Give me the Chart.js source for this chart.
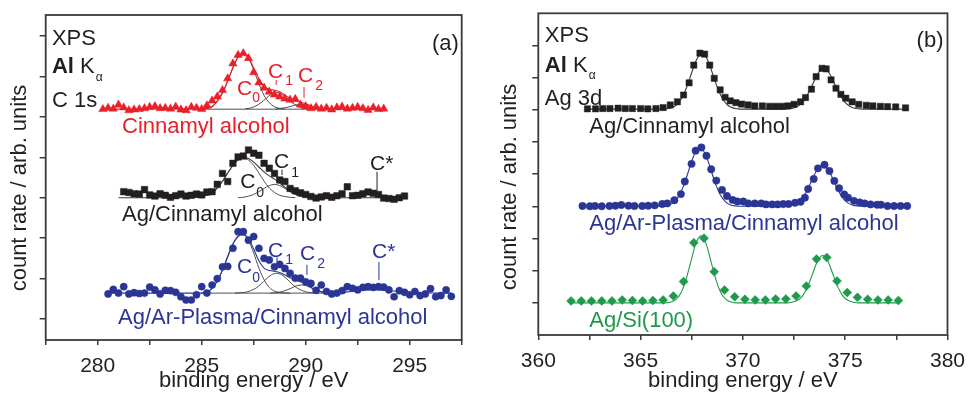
<!DOCTYPE html>
<html>
<head>
<meta charset="utf-8">
<script src="https://cdn.jsdelivr.net/npm/chart.js@4"></script>
<style>
  body { margin: 0; background: #fff; }
  #wrap { position: relative; width: 974px; height: 394px; background: #fff; }
  canvas { position: absolute; top: 0; }
</style>
</head>
<body>
<div id="wrap">
  <canvas id="chartA" width="490" height="394" style="left:0"></canvas>
  <canvas id="chartB" width="484" height="394" style="left:490px"></canvas>
</div>
<script>
// ---------- panel (a): C 1s ----------
const xTicksA = [277.5, 280, 282.5, 285, 287.5, 290, 292.5, 295, 297.5];
const yTicksA = [0, 1, 2, 3, 4, 5, 6, 7];

// Cinnamyl alcohol (red triangles)
const cinX = [280.25, 280.5, 280.75, 281, 281.25, 281.5, 281.75, 282, 282.25, 282.5, 282.75, 283, 283.25, 283.5, 283.75,
  284, 284.25, 284.5, 284.75, 285, 285.25, 285.5, 285.75, 286, 286.25, 286.5, 286.75, 287, 287.25, 287.5, 287.75,
  288, 288.25, 288.5, 288.75, 289, 289.25, 289.5, 289.75, 290, 290.25, 290.5, 290.75, 291, 291.25, 291.5, 291.75,
  292, 292.25, 292.5, 292.75, 293, 293.25, 293.5, 293.75];
const cinY = [5.19, 5.22, 5.20, 5.30, 5.23, 5.16, 5.18, 5.19, 5.21, 5.24, 5.26, 5.21, 5.22, 5.20, 5.25,
  5.18, 5.16, 5.24, 5.22, 5.19, 5.28, 5.40, 5.50, 5.66, 5.95, 6.32, 6.53, 6.57, 6.45, 6.10, 5.85,
  5.72, 5.62, 5.55, 5.50, 5.45, 5.42, 5.44, 5.30, 5.26, 5.21, 5.24, 5.20, 5.22, 5.18, 5.23, 5.25,
  5.20, 5.22, 5.24, 5.21, 5.17, 5.23, 5.19, 5.20];
const cinFitX = [280.25, 285, 285.25, 285.5, 285.75, 286, 286.25, 286.5, 286.75, 287, 287.25, 287.5, 287.75, 288, 288.25,
  288.5, 288.75, 289, 289.25, 289.5, 289.75, 290, 290.25, 290.5, 290.75, 291, 291.25, 293.75];
const cinFitY = [5.19, 5.20, 5.21, 5.25, 5.40, 5.60, 5.90, 6.22, 6.48, 6.57, 6.47, 6.21, 5.94, 5.76, 5.68,
  5.66, 5.62, 5.54, 5.46, 5.40, 5.36, 5.32, 5.27, 5.24, 5.21, 5.20, 5.19, 5.19];
const cinC0X = [285, 285.25, 285.5, 285.75, 286, 286.25, 286.5, 286.75, 287, 287.25, 287.5, 287.75, 288, 288.25, 288.5, 288.75, 289];
const cinC0Y = [5.19, 5.21, 5.26, 5.38, 5.58, 5.88, 6.21, 6.47, 6.56, 6.45, 6.16, 5.82, 5.53, 5.35, 5.25, 5.21, 5.19];
const cinC1X = [287.1, 287.35, 287.6, 287.85, 288.1, 288.35, 288.6, 288.85, 289.1, 289.35, 289.6, 289.85, 290.1];
const cinC1Y = [5.20, 5.22, 5.27, 5.35, 5.46, 5.56, 5.60, 5.56, 5.46, 5.35, 5.27, 5.22, 5.20];
const cinC2X = [288.55, 288.8, 289.05, 289.3, 289.55, 289.8, 290.05, 290.3, 290.55, 290.8, 291.05];
const cinC2Y = [5.19, 5.21, 5.23, 5.26, 5.30, 5.31, 5.30, 5.26, 5.23, 5.21, 5.19];
const cinBaseX = [285.0, 291.2];
const cinBaseY = [5.19, 5.19];

// Ag/Cinnamyl alcohol (black squares)
const agcX = [281.25, 281.5, 281.75, 282, 282.25, 282.5, 282.75, 283, 283.25, 283.5, 283.75, 284, 284.25, 284.5, 284.75,
  285, 285.25, 285.5, 285.75, 286, 286.25, 286.5, 286.75, 287, 287.25, 287.5, 287.75, 288, 288.25, 288.5, 288.75,
  289, 289.25, 289.5, 289.75, 290, 290.25, 290.5, 290.75, 291, 291.25, 291.5, 291.75, 292, 292.25, 292.5, 292.75,
  293, 293.25, 293.5, 293.75, 294, 294.25, 294.5, 294.75];
const agcY = [3.15, 3.13, 3.10, 3.09, 3.20, 3.07, 3.04, 3.10, 3.06, 3.01, 3.05, 3.09, 3.04, 3.06, 3.09,
  3.07, 3.14, 3.15, 3.33, 3.60, 3.40, 3.85, 4.01, 4.03, 4.18, 4.10, 4.05, 3.85, 3.73, 3.60, 3.44,
  3.40, 3.23, 3.17, 3.12, 3.08, 3.03, 2.99, 3.02, 3.05, 3.01, 3.05, 3.10, 3.27, 3.05, 3.06, 3.10,
  3.14, 3.11, 3.08, 2.99, 2.98, 2.96, 3.00, 3.04];
const agcFitX = [281.0, 284.5, 284.75, 285, 285.25, 285.5, 285.75, 286, 286.25, 286.5, 286.75, 287, 287.25, 287.5, 287.75,
  288, 288.25, 288.5, 288.75, 289, 289.25, 289.5, 289.75, 290, 290.25, 294.9];
const agcFitY = [3.00, 3.00, 3.01, 3.03, 3.06, 3.13, 3.24, 3.41, 3.61, 3.80, 3.94, 4.01, 3.97, 3.88, 3.76,
  3.64, 3.54, 3.46, 3.36, 3.26, 3.16, 3.09, 3.04, 3.02, 3.00, 3.00];
const agcC0X = [284.5, 284.75, 285, 285.25, 285.5, 285.75, 286, 286.25, 286.5, 286.75, 287, 287.25, 287.5, 287.75, 288,
  288.25, 288.5, 288.75, 289, 289.25, 289.5];
const agcC0Y = [3.00, 3.01, 3.03, 3.06, 3.13, 3.24, 3.41, 3.61, 3.80, 3.93, 3.99, 3.93, 3.80, 3.61, 3.41,
  3.24, 3.13, 3.06, 3.03, 3.01, 3.00];
const agcC1X = [286.75, 287, 287.25, 287.5, 287.75, 288, 288.25, 288.5, 288.75, 289, 289.25, 289.5, 289.75, 290, 290.25];
const agcC1Y = [3.00, 3.01, 3.04, 3.08, 3.15, 3.23, 3.30, 3.33, 3.30, 3.23, 3.15, 3.08, 3.04, 3.02, 3.00];

// Ag/Ar-Plasma/Cinnamyl alcohol (blue circles)
const plX = [280.5, 280.75, 281, 281.25, 281.5, 281.75, 282, 282.25, 282.5, 282.75, 283, 283.25, 283.5, 283.75,
  284, 284.25, 284.5, 284.75, 285, 285.25, 285.5, 285.75, 286, 286.25, 286.5, 286.75, 287, 287.25, 287.5, 287.75,
  288, 288.25, 288.5, 288.75, 289, 289.25, 289.5, 289.75, 290, 290.25, 290.5, 290.75, 291, 291.25, 291.5, 291.75,
  292, 292.25, 292.5, 292.75, 293, 293.25, 293.5, 293.75, 294, 294.25, 294.5, 294.75, 295, 295.25, 295.5, 295.75,
  296, 296.25, 296.5, 296.75, 297];
const plY = [0.62, 0.73, 0.64, 0.80, 0.62, 0.65, 0.63, 0.64, 0.79, 0.72, 0.62, 0.71, 0.70, 0.66,
  0.55, 0.47, 0.47, 0.60, 0.80, 0.64, 0.84, 1.00, 1.29, 1.30, 1.75, 2.16, 2.16, 1.95, 2.04, 1.75,
  1.50, 1.46, 1.29, 1.35, 1.25, 1.13, 1.01, 1.01, 0.92, 0.88, 0.71, 0.84, 0.68, 0.62, 0.64, 0.70,
  0.80, 0.76, 0.72, 0.78, 0.80, 0.78, 0.80, 0.79, 0.72, 0.55, 0.70, 0.66, 0.60, 0.68, 0.58, 0.62,
  0.75, 0.55, 0.58, 0.72, 0.56];
const plFitX = [280.5, 285, 285.25, 285.5, 285.75, 286, 286.25, 286.5, 286.75, 287, 287.25, 287.5, 287.75, 288, 288.25,
  288.5, 288.75, 289, 289.25, 289.5, 289.75, 290, 290.25, 290.5, 290.75, 291, 291.5, 292, 292.5, 293, 293.5,
  294, 294.5, 295, 295.5, 297];
const plFitY = [0.64, 0.64, 0.67, 0.76, 0.95, 1.22, 1.55, 1.86, 2.05, 2.09, 1.99, 1.73, 1.44, 1.26, 1.20,
  1.18, 1.15, 1.09, 1.02, 0.97, 0.92, 0.86, 0.78, 0.72, 0.67, 0.65, 0.66, 0.67, 0.70, 0.72, 0.72,
  0.70, 0.68, 0.66, 0.65, 0.64];
const plC0X = [285, 285.25, 285.5, 285.75, 286, 286.25, 286.5, 286.75, 287, 287.25, 287.5, 287.75, 288, 288.25, 288.5, 288.75, 289, 289.25];
const plC0Y = [0.64, 0.67, 0.75, 0.93, 1.20, 1.53, 1.84, 2.03, 2.08, 1.95, 1.63, 1.26, 0.97, 0.78, 0.69, 0.655, 0.643, 0.64];
const plC1X = [286.6, 286.85, 287.1, 287.35, 287.6, 287.85, 288.1, 288.35, 288.6, 288.85, 289.1, 289.35, 289.6, 289.85, 290.1, 290.35, 290.6];
const plC1Y = [0.64, 0.65, 0.66, 0.70, 0.76, 0.86, 0.99, 1.09, 1.13, 1.09, 0.99, 0.86, 0.76, 0.70, 0.66, 0.65, 0.64];
const plC2X = [288.3, 288.55, 288.8, 289.05, 289.3, 289.55, 289.8, 290.05, 290.3, 290.55, 290.8, 291.05, 291.3];
const plC2Y = [0.64, 0.65, 0.67, 0.71, 0.76, 0.82, 0.84, 0.82, 0.76, 0.71, 0.67, 0.65, 0.64];
const plBaseX = [285.0, 291.4];
const plBaseY = [0.64, 0.64];

// ---------- panel (b): Ag 3d ----------
const xTicksB = [360, 362.5, 365, 367.5, 370, 372.5, 375, 377.5, 380];
const yTicksB = [1, 2, 3, 4, 5, 6, 7, 8, 9];

const agX = [362.4, 362.8, 363.15, 363.5, 363.9, 364.25, 364.6, 365.0, 365.35, 365.75, 366.1, 366.45, 366.8, 367.1,
  367.37, 367.6, 367.9, 368.13, 368.38, 368.6, 368.89, 369.13, 369.38, 369.66, 369.94, 370.26, 370.58, 370.95,
  371.3, 371.6, 371.9, 372.2, 372.5, 372.82, 373.06, 373.35, 373.58, 373.87, 374.07, 374.31, 374.55, 374.79,
  375.03, 375.34, 375.66, 376.03, 376.35, 376.72, 377.07, 377.47, 377.95];
const agY = [7.03, 7.03, 7.04, 7.04, 7.05, 7.04, 7.04, 7.04, 7.03, 7.04, 7.07, 7.15, 7.25, 7.46,
  7.84, 8.39, 8.76, 8.73, 8.39, 7.98, 7.62, 7.39, 7.28, 7.22, 7.18, 7.15, 7.12, 7.12,
  7.11, 7.11, 7.11, 7.12, 7.17, 7.25, 7.38, 7.64, 8.03, 8.29, 8.27, 7.93, 7.67, 7.48,
  7.36, 7.25, 7.17, 7.14, 7.12, 7.11, 7.10, 7.09, 7.06];
const agFitX = [362.3, 366, 366.25, 366.5, 366.75, 367, 367.25, 367.5, 367.75, 368, 368.25, 368.5, 368.75, 369, 369.25,
  369.5, 369.75, 370, 371.95, 372.2, 372.45, 372.7, 372.95, 373.2, 373.45, 373.7, 373.95, 374.2, 374.45, 374.7,
  374.95, 375.2, 375.45, 375.7, 375.95, 378.1];
const agFitY = [7.02, 7.02, 7.03, 7.06, 7.15, 7.35, 7.70, 8.16, 8.58, 8.75, 8.58, 8.16, 7.70, 7.35, 7.15,
  7.06, 7.03, 7.02, 7.02, 7.03, 7.05, 7.12, 7.26, 7.52, 7.85, 8.16, 8.28, 8.16, 7.85, 7.52,
  7.26, 7.12, 7.05, 7.03, 7.02, 7.02];

const agpX = [362.16, 362.52, 362.77, 363.1, 363.48, 363.77, 364.06, 364.41, 364.7, 365.08, 365.37, 365.69, 366.06,
  366.3, 366.65, 366.97, 367.16, 367.49, 367.69, 367.97, 368.22, 368.45, 368.7, 368.98, 369.22, 369.5, 369.73,
  370.02, 370.26, 370.58, 370.9, 371.13, 371.43, 371.7, 371.97, 372.23, 372.55, 372.82, 373.03, 373.19, 373.46,
  373.67, 373.99, 374.23, 374.47, 374.7, 374.95, 375.14, 375.43, 375.71, 375.95, 376.24, 376.56, 376.75,
  377.07, 377.39, 377.71, 378.03];
const agpY = [4.01, 4.00, 4.01, 4.00, 4.01, 4.02, 4.04, 4.02, 4.01, 4.01, 4.02, 4.03, 4.07,
  4.09, 4.19, 4.38, 4.77, 5.32, 5.73, 5.83, 5.57, 5.15, 4.80, 4.51, 4.32, 4.20, 4.15,
  4.15, 4.09, 4.09, 4.09, 4.06, 4.06, 4.06, 4.07, 4.07, 4.11, 4.14, 4.27, 4.54, 4.85,
  5.18, 5.29, 5.10, 4.79, 4.56, 4.37, 4.27, 4.17, 4.12, 4.09, 4.06, 4.05, 4.05,
  4.01, 4.01, 4.01, 4.01];
const agpFitX = [362.16, 365.9, 366.15, 366.4, 366.65, 366.9, 367.15, 367.4, 367.65, 367.9, 368.15, 368.4, 368.65,
  368.9, 369.15, 369.4, 369.65, 369.9, 371.9, 372.15, 372.4, 372.65, 372.9, 373.15, 373.4, 373.65, 373.9,
  374.15, 374.4, 374.65, 374.9, 375.15, 375.4, 375.65, 375.9, 378.1];
const agpFitY = [4.00, 4.00, 4.01, 4.04, 4.14, 4.35, 4.72, 5.21, 5.64, 5.82, 5.64, 5.21, 4.72,
  4.35, 4.14, 4.04, 4.01, 4.00, 4.00, 4.01, 4.03, 4.10, 4.24, 4.51, 4.85, 5.16, 5.28,
  5.16, 4.85, 4.51, 4.24, 4.10, 4.03, 4.01, 4.00, 4.00];

const siX = [361.6, 362.1, 362.6, 363.1, 363.6, 364.1, 364.6, 365.1, 365.6, 366.1, 366.6, 367.1, 367.6, 368.1,
  368.6, 369.1, 369.6, 370.1, 370.6, 371.1, 371.6, 372.1, 372.6, 373.1, 373.6, 374.1, 374.6, 375.1, 375.6,
  376.1, 376.6, 377.1, 377.6];
const siY = [1.06, 1.06, 1.06, 1.06, 1.06, 1.09, 1.07, 1.06, 1.07, 1.09, 1.21, 1.66, 2.87, 3.01,
  1.97, 1.40, 1.19, 1.11, 1.09, 1.09, 1.12, 1.12, 1.21, 1.52, 2.36, 2.41, 1.68, 1.32, 1.17,
  1.11, 1.09, 1.09, 1.07];
const siFitX = [361.6, 366.2, 366.45, 366.7, 366.95, 367.2, 367.45, 367.7, 367.95, 368.2, 368.45, 368.7, 368.95,
  369.2, 369.45, 369.7, 372.15, 372.4, 372.65, 372.9, 373.15, 373.4, 373.65, 373.9, 374.15, 374.4, 374.65,
  374.9, 375.15, 375.4, 375.65, 377.6];
const siFitY = [1.00, 1.00, 1.02, 1.09, 1.28, 1.68, 2.26, 2.84, 3.08, 2.84, 2.26, 1.68, 1.28,
  1.09, 1.02, 1.00, 1.00, 1.02, 1.07, 1.20, 1.48, 1.89, 2.30, 2.47, 2.30, 1.89, 1.48,
  1.20, 1.07, 1.02, 1.00, 1.00];

// ---------- styles ----------
const family = '"Liberation Sans", Arial, Helvetica, sans-serif';
const ink = '#231f20';
const frame = '#3a3a3a';
const red = '#e8202a';
const blue = '#2b3595';
const green = '#1f9a4c';
const comp = '#3c3c3c';

function pts(xs, ys) {
    return xs.map((x, i) => ({ x: x, y: ys[i] }));
}

function markers(xs, ys, color, style, r) {
    return {
        data: pts(xs, ys), showLine: false, order: 0,
        pointStyle: style, pointRadius: r,
        pointBackgroundColor: color, pointBorderColor: color, pointBorderWidth: 0.5
    };
}

function curve(xs, ys, color, width) {
    return {
        data: pts(xs, ys), showLine: true, order: 1, pointRadius: 0,
        borderColor: color, borderWidth: width, cubicInterpolationMode: 'monotone', fill: false
    };
}

// frame, marker lines, in-plot labels and the vertical axis title
function decor(labels, marks, titleY) {
    return {
        id: 'decor',
        afterDraw(chart) {
            const { ctx, chartArea: a } = chart;
            const xs = chart.scales.x, ys = chart.scales.y;
            ctx.save();
            ctx.strokeStyle = frame;
            ctx.lineWidth = 1.8;
            ctx.strokeRect(a.left, a.top, a.right - a.left, a.bottom - a.top);

            ctx.lineWidth = 1;
            marks.forEach(m => {
                const px = xs.getPixelForValue(m.x);
                ctx.strokeStyle = m.color;
                ctx.beginPath();
                ctx.moveTo(px, ys.getPixelForValue(m.y0));
                ctx.lineTo(px, ys.getPixelForValue(m.y1));
                ctx.stroke();
            });

            ctx.textAlign = 'left';
            ctx.textBaseline = 'alphabetic';
            labels.forEach(l => {
                let px = xs.getPixelForValue(l.x);
                const py = ys.getPixelForValue(l.y);
                ctx.fillStyle = l.color;
                l.parts.forEach(p => {
                    ctx.font = (p.bold ? 'bold ' : '') + (p.size || 22) + 'px ' + family;
                    px += p.dx || 0;
                    ctx.fillText(p.t, px, py + (p.dy || 0));
                    px += ctx.measureText(p.t).width;
                });
            });

            ctx.translate(20, titleY);
            ctx.rotate(-Math.PI / 2);
            ctx.font = '22px ' + family;
            ctx.fillStyle = ink;
            ctx.textAlign = 'center';
            ctx.textBaseline = 'middle';
            ctx.fillText('count rate / arb. units', 0, 0);
            ctx.restore();
        }
    };
}

function axes(xMin, xMax, xTicks, yMin, yMax, yTicks, yWidth, xHeight) {
    return {
        x: {
            type: 'linear', min: xMin, max: xMax,
            afterBuildTicks: axis => { axis.ticks = xTicks.map(v => ({ value: v })); },
            afterFit: axis => { axis.height = xHeight; },
            ticks: {
                autoSkip: false, maxRotation: 0, padding: 9, color: ink,
                font: { family: family, size: 21 },
                callback: v => (v % 5 === 0 ? v : '')
            },
            grid: { drawOnChartArea: false, drawTicks: true, tickLength: 5, color: frame, lineWidth: 1.5 },
            border: { display: false },
            title: {
                display: true, text: 'binding energy / eV', color: ink,
                font: { family: family, size: 22 }, padding: { top: 0, bottom: 0 }
            }
        },
        y: {
            type: 'linear', min: yMin, max: yMax,
            afterBuildTicks: axis => { axis.ticks = yTicks.map(v => ({ value: v })); },
            afterFit: axis => { axis.width = yWidth; },
            ticks: { display: false },
            grid: { drawOnChartArea: false, drawTicks: true, tickLength: 6, color: frame, lineWidth: 1.5 },
            border: { display: false }
        }
    };
}

const C = (n, dy, dx) => [{ t: 'C', size: 21 }, { t: n, size: 14, dy: dy, dx: dx }];

const labelsA = [
    { x: 277.8, y: 6.78, color: ink, parts: [{ t: 'XPS' }] },
    { x: 277.8, y: 6.08, color: ink, parts: [{ t: 'Al', bold: true }, { t: ' K' }, { t: 'α', size: 12, dy: 8, dx: 1 }] },
    { x: 277.8, y: 5.24, color: ink, parts: [{ t: 'C 1s' }] },
    { x: 296.07, y: 6.65, color: ink, parts: [{ t: '(a)' }] },
    { x: 281.17, y: 4.60, color: red, parts: [{ t: 'Cinnamyl alcohol' }] },
    { x: 286.7, y: 5.54, color: red, parts: C('0', 7, 0) },
    { x: 288.19, y: 5.96, color: red, parts: C('1', 7, 2) },
    { x: 289.63, y: 5.86, color: red, parts: C('2', 8, 2) },
    { x: 281.17, y: 2.42, color: ink, parts: [{ t: 'Ag/Cinnamyl alcohol' }] },
    { x: 286.85, y: 3.24, color: ink, parts: C('0', 9, 1) },
    { x: 288.48, y: 3.73, color: ink, parts: C('1', 9, 2) },
    { x: 293.09, y: 3.69, color: ink, parts: [{ t: 'C*', size: 21 }] },
    { x: 280.98, y: -0.12, color: blue, parts: [{ t: 'Ag/Ar-Plasma/Cinnamyl alcohol' }] },
    { x: 286.7, y: 1.14, color: blue, parts: C('0', 9, 0) },
    { x: 288.19, y: 1.53, color: blue, parts: C('1', 7, 2) },
    { x: 289.73, y: 1.46, color: blue, parts: C('2', 8, 2) },
    { x: 293.19, y: 1.51, color: blue, parts: [{ t: 'C*', size: 21 }] }
];
const marksA = [
    { x: 288.58, y0: 5.91, y1: 5.79, color: red },
    { x: 289.92, y0: 5.74, y1: 5.47, color: red },
    { x: 288.86, y0: 3.69, y1: 3.56, color: ink },
    { x: 293.43, y0: 3.64, y1: 3.14, color: ink },
    { x: 288.62, y0: 1.53, y1: 1.41, color: blue },
    { x: 290.06, y0: 1.34, y1: 1.09, color: blue },
    { x: 293.52, y0: 1.41, y1: 0.96, color: blue }
];

const labelsB = [
    { x: 360.32, y: 9.11, color: ink, parts: [{ t: 'XPS' }] },
    { x: 360.32, y: 8.18, color: ink, parts: [{ t: 'Al', bold: true }, { t: ' K' }, { t: 'α', size: 12, dy: 7, dx: 1 }] },
    { x: 360.32, y: 7.15, color: ink, parts: [{ t: 'Ag 3d' }] },
    { x: 378.49, y: 8.95, color: ink, parts: [{ t: '(b)' }] },
    { x: 362.49, y: 6.28, color: ink, parts: [{ t: 'Ag/Cinnamyl alcohol' }] },
    { x: 362.49, y: 3.26, color: blue, parts: [{ t: 'Ag/Ar-Plasma/Cinnamyl alcohol' }] },
    { x: 362.49, y: 0.25, color: green, parts: [{ t: 'Ag/Si(100)' }] }
];

const common = {
    responsive: false, animation: false, devicePixelRatio: 1, events: [],
    plugins: { legend: { display: false }, tooltip: { enabled: false } }
};

new Chart(document.getElementById('chartA').getContext('2d'), {
    type: 'scatter',
    data: {
        datasets: [
            markers(cinX, cinY, red, 'triangle', 4.8),
            markers(agcX, agcY, ink, 'rect', 4.6),
            markers(plX, plY, blue, 'circle', 3.6),
            curve(cinFitX, cinFitY, red, 1.1),
            curve(cinC0X, cinC0Y, comp, 0.9),
            curve(cinC1X, cinC1Y, comp, 0.9),
            curve(cinC2X, cinC2Y, comp, 0.9),
            curve(cinBaseX, cinBaseY, comp, 0.9),
            curve(agcFitX, agcFitY, comp, 1.1),
            curve(agcC0X, agcC0Y, comp, 0.9),
            curve(agcC1X, agcC1Y, comp, 0.9),
            curve(plFitX, plFitY, blue, 1.1),
            curve(plC0X, plC0Y, comp, 0.9),
            curve(plC1X, plC1Y, comp, 0.9),
            curve(plC2X, plC2Y, comp, 0.9),
            curve(plBaseX, plBaseY, comp, 0.9)
        ]
    },
    options: Object.assign({}, common, {
        layout: { padding: { top: 15, right: 28.3, left: 0, bottom: 0 } },
        scales: axes(277.5, 297.5, xTicksA, -0.52, 7.52, yTicksA, 45.7, 54)
    }),
    plugins: [decor(labelsA, marksA, 188)]
});

new Chart(document.getElementById('chartB').getContext('2d'), {
    type: 'scatter',
    data: {
        datasets: [
            markers(agX, agY, ink, 'rect', 4.4),
            markers(agpX, agpY, blue, 'circle', 3.7),
            markers(siX, siY, green, 'rectRot', 4.5),
            curve(agFitX, agFitY, comp, 1.1),
            curve(agpFitX, agpFitY, blue, 1.1),
            curve(siFitX, siFitY, green, 1.1)
        ]
    },
    options: Object.assign({}, common, {
        layout: { padding: { top: 13.3, right: 19.7, left: 0, bottom: 0 } },
        scales: axes(360, 380, xTicksB, 0, 10, yTicksB, 48.3, 59)
    }),
    plugins: [decor(labelsB, [], 187)]
});
</script>
</body>
</html>
